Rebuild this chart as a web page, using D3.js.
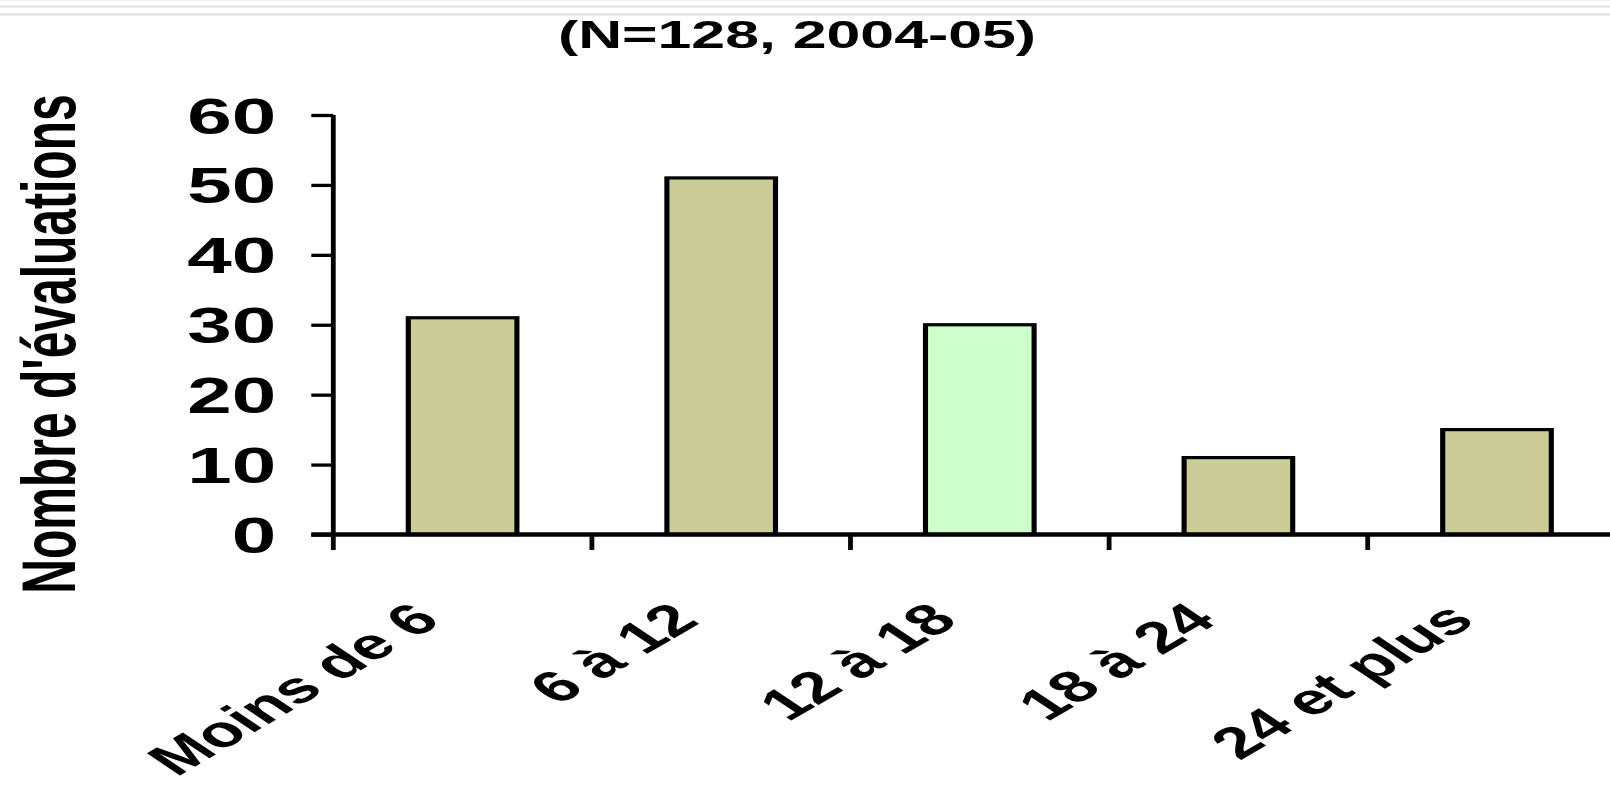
<!DOCTYPE html>
<html lang="fr">
<head>
<meta charset="utf-8">
<title>Nombre d'évaluations (N=128, 2004-05)</title>
<script src="https://cdn.jsdelivr.net/npm/d3@7"></script>
<style>
  html, body { margin: 0; padding: 0; background: #ffffff; }
  svg { display: block; }
  text { font-family: "Liberation Sans", Arial, Helvetica, sans-serif; font-weight: bold; fill: #000; }
</style>
</head>
<body>
<script>
// Age groups (months) and number of evaluations in each
const categories = ["Moins de 6", "6 à 12", "12 à 18", "18 à 24", "24 et plus"];
const counts = [31, 51, 30, 11, 15];
const yTicks = [0, 10, 20, 30, 40, 50, 60];
const highlighted = "12 à 18";
const titleText = "(N=128, 2004-05)";
const yTitleText = "Nombre d'évaluations";

const W = 1610, H = 798;
// The chart is drawn in a frame widened horizontally
const SX = 1.6;
const fx = v => v / SX;

const svg = d3.select("body").append("svg")
  .attr("width", W).attr("height", H)
  .attr("viewBox", `0 0 ${W} ${H}`);

svg.append("rect").attr("width", W).attr("height", H).attr("fill", "#ffffff");

// thin grey rules along the top edge
[[0.5, 1, "#efefef"], [6.5, 2, "#e2e2e2"], [14.5, 2.5, "#e2e2e2"]].forEach(([yy, sw, c]) => {
  svg.append("line").attr("x1", 0).attr("x2", W).attr("y1", yy).attr("y2", yy)
    .attr("stroke", c).attr("stroke-width", sw);
});

const g = svg.append("g").attr("transform", `scale(${SX},1)`);

const axisX = fx(333.3);
const baseY = 534.5;
const topY = 115;
const step = fx(258.6);

const y = d3.scaleLinear().domain([0, 60]).range([baseY, topY]);
const x = d3.scaleBand().domain(categories)
  .range([axisX, axisX + categories.length * step])
  .paddingInner(0.58).paddingOuter(0.29);

// bars
g.append("g").selectAll("rect")
  .data(categories.map((c, i) => ({ c, v: counts[i] })))
  .join("rect")
  .attr("x", d => x(d.c))
  .attr("width", x.bandwidth())
  .attr("y", d => y(d.v))
  .attr("height", d => y(0) - y(d.v))
  .attr("fill", d => d.c === highlighted ? "#ccffcc" : "#cccc99")
  .attr("stroke", "#000")
  .attr("stroke-width", 3.2);

// y axis
const yAxis = d3.axisLeft(y)
  .tickValues(yTicks)
  .tickSize(fx(22))
  .tickPadding(fx(35))
  .tickFormat(d3.format("d"));

const yg = g.append("g").attr("transform", `translate(${axisX},0)`).call(yAxis);
yg.select(".domain").remove();
yg.selectAll(".tick line").attr("stroke", "#000").attr("stroke-width", 3.3);
yg.selectAll(".tick text")
  .attr("dy", "0.36em")
  .style("font-size", "50px")
  .style("font-family", "'Liberation Sans', Arial, sans-serif")
  .style("font-weight", "bold")
  .attr("fill", "#000");

const tickLen = 15.5;

// x axis line
g.append("line")
  .attr("x1", axisX - fx(22)).attr("x2", x.range()[1])
  .attr("y1", y(0)).attr("y2", y(0))
  .attr("stroke", "#000").attr("stroke-width", 4.3);

// vertical axis line, running a little below the baseline
g.append("line")
  .attr("x1", axisX).attr("x2", axisX)
  .attr("y1", y(yTicks[yTicks.length - 1])).attr("y2", y(0) + tickLen)
  .attr("stroke", "#000").attr("stroke-width", 3);

// category boundary ticks
const bounds = categories.map(c => x(c) - x.step() * x.paddingOuter());
g.append("g").selectAll("line")
  .data(bounds.slice(1))
  .join("line")
  .attr("x1", d => d).attr("x2", d => d)
  .attr("y1", y(0)).attr("y2", y(0) + tickLen)
  .attr("stroke", "#000").attr("stroke-width", 3);

// rotated category labels
g.append("g").selectAll("text")
  .data(categories)
  .join("text")
  .attr("transform", c => `translate(${x(c) + x.bandwidth() / 2 - fx(20)},${y(0) + 88}) rotate(-43)`)
  .attr("text-anchor", "end")
  .style("font-size", "44px")
  .text(c => c);

// y axis title
g.append("text")
  .attr("transform", `translate(${fx(75)},344) rotate(-90)`)
  .attr("text-anchor", "middle")
  .style("font-size", "48px")
  .text(yTitleText);

// title line
g.append("text")
  .attr("x", fx(797)).attr("y", 48.3)
  .attr("text-anchor", "middle")
  .style("font-size", "38px")
  .text(titleText);
</script>
</body>
</html>
